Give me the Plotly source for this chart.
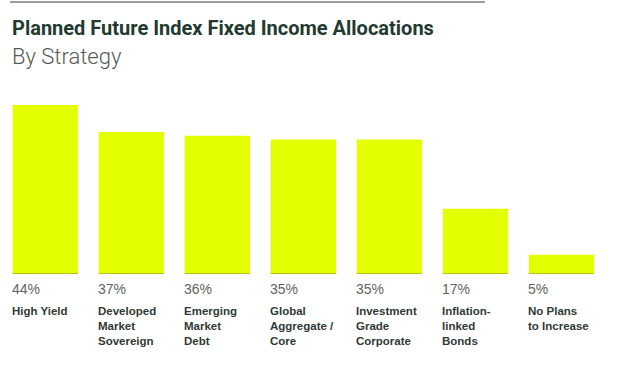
import plotly.graph_objects as go

categories = ["High Yield", "Developed Market Sovereign", "Emerging Market Debt",
              "Global Aggregate / Core", "Investment Grade Corporate",
              "Inflation-linked Bonds", "No Plans to Increase"]
label_lines = ["High Yield", "Developed<br>Market<br>Sovereign", "Emerging<br>Market<br>Debt",
               "Global<br>Aggregate /<br>Core", "Investment<br>Grade<br>Corporate",
               "Inflation-<br>linked<br>Bonds", "No Plans<br>to Increase"]
values = [44, 37, 36, 35, 35, 17, 5]

W, H = 640, 368
BAR_COLOR = "#e4ff00"
BAR_W = 0.76
BASE_PX = 274

fig = go.Figure()
fig.add_trace(go.Bar(x=categories, y=values, marker=dict(color=BAR_COLOR, line=dict(width=0)),
                     width=BAR_W, hoverinfo="skip"))

annotations = []
shapes = []
for i, (cat, v, lab) in enumerate(zip(categories, values, label_lines)):
    annotations.append(dict(x=i - BAR_W / 2, y=0, xref="x", yref="y", xanchor="left", yanchor="top",
                            text=f"{v}%", showarrow=False, yshift=-5, xshift=-3,
                            font=dict(family="Liberation Sans, Arial", size=14, color="#5e6461")))
    annotations.append(dict(x=i - BAR_W / 2, y=0, xref="x", yref="y", xanchor="left", yanchor="top",
                            text=f"<b>{lab}</b>", showarrow=False, align="left", yshift=-29, xshift=-3,
                            font=dict(family="Liberation Sans, Arial", size=11.5, color="#2f3a35")))
    shapes.append(dict(type="line", xref="x", yref="y", x0=i - BAR_W / 2, x1=i + BAR_W / 2, y0=0, y1=0,
                       line=dict(color="#a4b21a", width=1.5)))

annotations.append(dict(x=10 / W, y=1 - 14 / H, xref="paper", yref="paper", xanchor="left", yanchor="top",
                        text="Planned Future Index Fixed Income Allocations", showarrow=False,
                        font=dict(family="Roboto", size=20, weight=700, color="#233a30")))
annotations.append(dict(x=10 / W, y=1 - 42 / H, xref="paper", yref="paper", xanchor="left", yanchor="top",
                        text="By Strategy", showarrow=False,
                        font=dict(family="Roboto", size=22, weight=300, color="#555b58")))
shapes.append(dict(type="line", xref="paper", yref="paper", x0=10 / W, x1=485 / W, y0=1 - 2 / H, y1=1 - 2 / H,
                   line=dict(color="#9a9c9b", width=2)))

fig.update_layout(
    width=W, height=H, margin=dict(l=0, r=0, t=0, b=0),
    paper_bgcolor="white", plot_bgcolor="white", showlegend=False,
    xaxis=dict(domain=[2.2 / W, 604.5 / W], range=[-0.5, 6.5], visible=False),
    yaxis=dict(domain=[(H - BASE_PX) / H, 1], range=[0, BASE_PX / 3.84], visible=False),
    annotations=annotations, shapes=shapes,
)
fig.write_html("out.html", config={"displayModeBar": False},
               post_script="document.body.style.margin='0';document.documentElement.style.overflow='hidden';")
